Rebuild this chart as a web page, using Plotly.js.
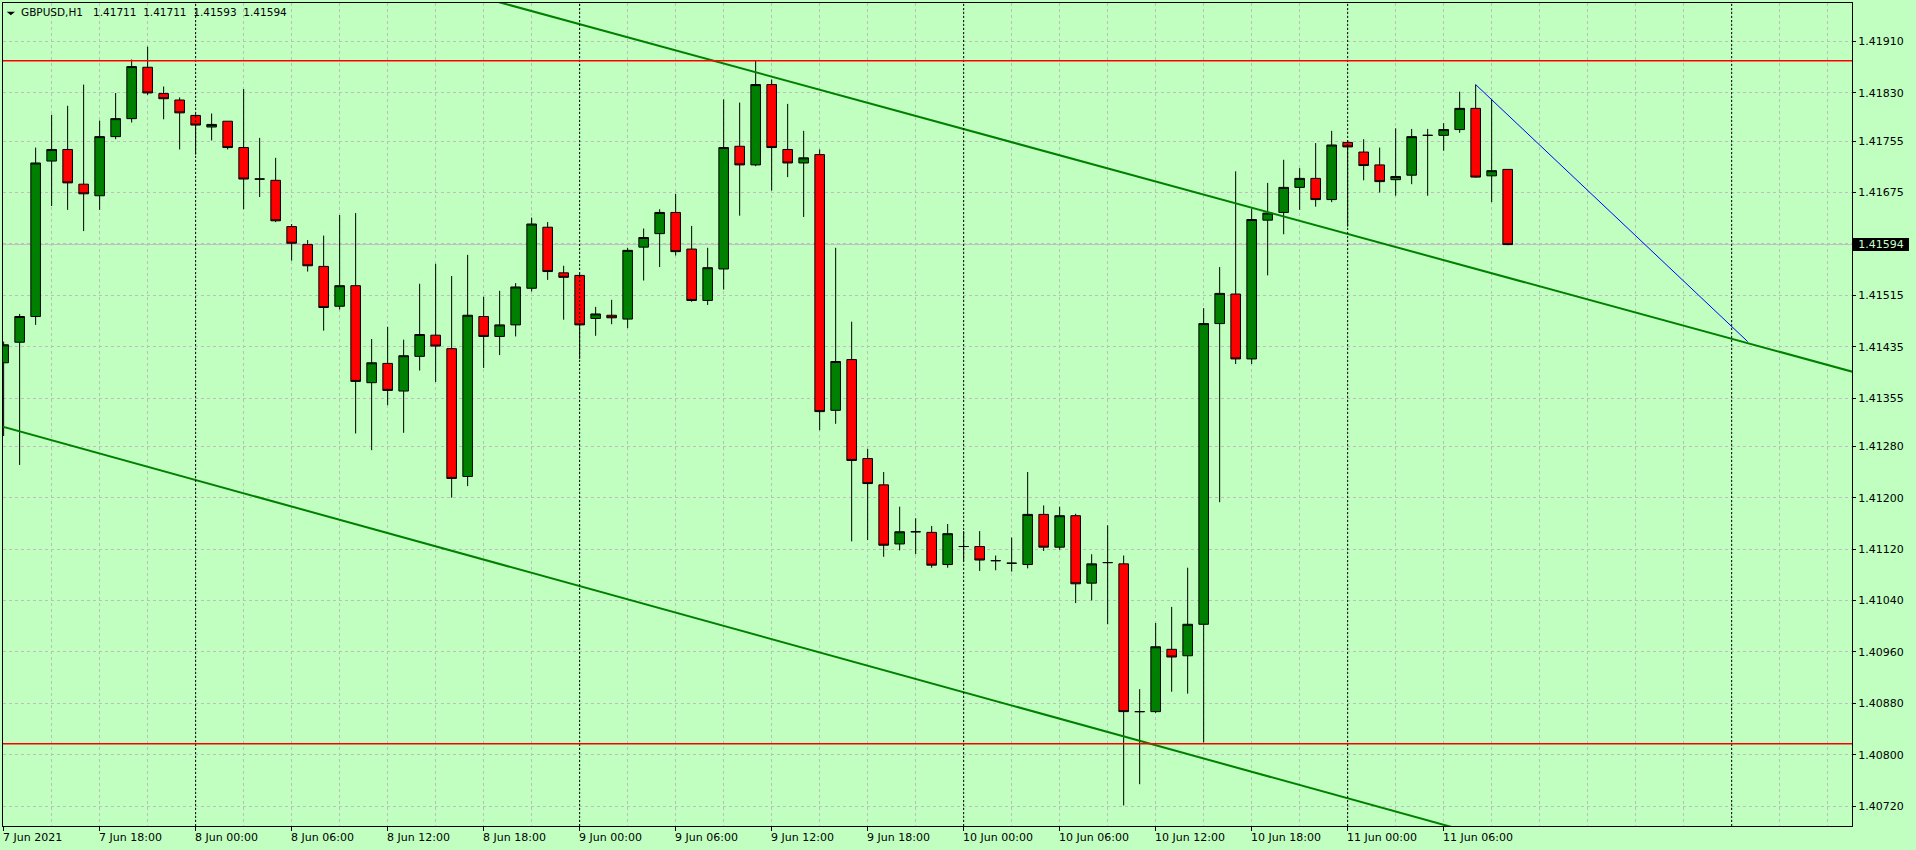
<!DOCTYPE html>
<html>
<head>
<meta charset="utf-8">
<script src="https://cdn.plot.ly/plotly-3.0.1.min.js"></script>
<style>
html,body{margin:0;padding:0;background:#C0FFC0;overflow:hidden;}
#chart{width:1916px;height:850px;}
</style>
</head>
<body>
<div id="chart"></div>
<script>
// ---- data (GBPUSD H1, first bar 7 Jun 2021 12:00, one bar per hour) ----
const firstBarTime = '2021-06-07T12:00:00';

const openP = [
1.41410,1.41442,1.41482,1.41724,1.41742,1.41688,1.41670,1.41762,1.41790,1.41870,
1.41829,1.41819,1.41795,1.41777,1.41786,1.41745,1.41696,1.41694,1.41622,1.41594,
1.41560,1.41498,1.41530,1.41379,1.41409,1.41366,1.41420,1.41453,1.41432,1.41233,
1.41482,1.41451,1.41469,1.41526,1.41621,1.41550,1.41546,1.41479,1.41484,1.41478,
1.41590,1.41611,1.41644,1.41587,1.41507,1.41556,1.41747,1.41718,1.41843,1.41742,
1.41721,1.41734,1.41336,1.41415,1.41261,1.41220,1.41128,1.41147,1.41146,1.41096,
1.41124,1.41124,1.41102,1.41098,1.41096,1.41174,1.41123,1.41172,1.41067,1.41099,
1.41097,1.40867,1.40867,1.40964,1.40954,1.41003,1.41471,1.41517,1.41416,1.41632,
1.41644,1.41683,1.41697,1.41664,1.41753,1.41738,1.41718,1.41695,1.41702,1.41764,
1.41764,1.41773,1.41806,1.41701,1.41711];
const highP = [
1.41443,1.41486,1.41745,1.41796,1.41810,1.41843,1.41787,1.41830,1.41882,1.41902,
1.41840,1.41823,1.41797,1.41798,1.41786,1.41836,1.41760,1.41729,1.41626,1.41601,
1.41608,1.41640,1.41643,1.41447,1.41466,1.41446,1.41533,1.41564,1.41545,1.41578,
1.41513,1.41522,1.41534,1.41636,1.41629,1.41561,1.41549,1.41497,1.41508,1.41589,
1.41619,1.41649,1.41673,1.41623,1.41589,1.41820,1.41815,1.41880,1.41851,1.41813,
1.41771,1.41742,1.41589,1.41474,1.41276,1.41240,1.41186,1.41168,1.41156,1.41159,
1.41148,1.41148,1.41110,1.41138,1.41240,1.41188,1.41186,1.41175,1.41112,1.41157,
1.41110,1.40902,1.41005,1.41030,1.41091,1.41495,1.41559,1.41708,1.41650,1.41690,
1.41726,1.41713,1.41752,1.41771,1.41756,1.41758,1.41745,1.41775,1.41774,1.41774,
1.41783,1.41832,1.41843,1.41821,1.41711];
const lowP = [
1.41296,1.41251,1.41469,1.41654,1.41648,1.41615,1.41648,1.41758,1.41784,1.41827,
1.41789,1.41742,1.41734,1.41756,1.41742,1.41649,1.41668,1.41629,1.41569,1.41552,
1.41460,1.41493,1.41300,1.41274,1.41344,1.41301,1.41398,1.41380,1.41200,1.41218,
1.41402,1.41422,1.41451,1.41521,1.41539,1.41477,1.41416,1.41452,1.41470,1.41464,
1.41538,1.41559,1.41577,1.41505,1.41500,1.41524,1.41639,1.41716,1.41678,1.41699,
1.41637,1.41305,1.41315,1.41132,1.41134,1.41108,1.41118,1.41112,1.41091,1.41091,
1.41101,1.41086,1.41087,1.41085,1.41090,1.41117,1.41119,1.41036,1.41040,1.41003,
1.40721,1.40754,1.40865,1.40898,1.40895,1.40819,1.41193,1.41408,1.41408,1.41546,
1.41610,1.41648,1.41653,1.41660,1.41622,1.41694,1.41675,1.41670,1.41688,1.41670,
1.41740,1.41768,1.41698,1.41660,1.41593];
const closeP = [
1.41438,1.41482,1.41721,1.41742,1.41690,1.41673,1.41762,1.41790,1.41871,1.41830,
1.41821,1.41799,1.41780,1.41781,1.41745,1.41696,1.41696,1.41631,1.41596,1.41561,
1.41496,1.41530,1.41381,1.41410,1.41367,1.41421,1.41454,1.41436,1.41230,1.41484,
1.41451,1.41469,1.41528,1.41626,1.41552,1.41543,1.41469,1.41486,1.41480,1.41585,
1.41605,1.41644,1.41583,1.41507,1.41558,1.41745,1.41718,1.41843,1.41745,1.41721,
1.41729,1.41334,1.41412,1.41258,1.41222,1.41126,1.41147,1.41147,1.41095,1.41144,
1.41124,1.41103,1.41102,1.41098,1.41174,1.41123,1.41172,1.41066,1.41097,1.41099,
1.40867,1.40867,1.40968,1.40952,1.41003,1.41471,1.41518,1.41416,1.41633,1.41643,
1.41683,1.41697,1.41664,1.41749,1.41746,1.41717,1.41692,1.41700,1.41762,1.41764,
1.41773,1.41806,1.41699,1.41709,1.41594];

// time axis labels (MT4 style, left aligned at the tick)
const xLabelTimes = [
'2021-06-07 12:00','2021-06-07 18:00','2021-06-08 00:00','2021-06-08 06:00',
'2021-06-08 12:00','2021-06-08 18:00','2021-06-09 00:00','2021-06-09 06:00',
'2021-06-09 12:00','2021-06-09 18:00','2021-06-10 00:00','2021-06-10 06:00',
'2021-06-10 12:00','2021-06-10 18:00','2021-06-11 00:00','2021-06-11 06:00'];
const xLabelText = [
'7 Jun 2021','7 Jun 18:00','8 Jun 00:00','8 Jun 06:00',
'8 Jun 12:00','8 Jun 18:00','9 Jun 00:00','9 Jun 06:00',
'9 Jun 12:00','9 Jun 18:00','10 Jun 00:00','10 Jun 06:00',
'10 Jun 12:00','10 Jun 18:00','11 Jun 00:00','11 Jun 06:00'];

// price axis
const yTickVals = [1.40720,1.40800,1.40880,1.40960,1.41040,1.41120,1.41200,1.41280,
                   1.41355,1.41435,1.41515,1.41595,1.41675,1.41755,1.41830,1.41910];
const yTickText = ['1.40720','1.40800','1.40880','1.40960','1.41040','1.41120','1.41200','1.41280',
                   '1.41355','1.41435','1.41515','','1.41675','1.41755','1.41830','1.41910'];

// objects on the chart
const daySeparators = ['2021-06-08 00:00','2021-06-09 00:00','2021-06-10 00:00','2021-06-11 00:00','2021-06-12 00:00'];
const levelPrices = [1.41880, 1.40817];
const bidPrice = 1.41594;
const upperTrendX = ['2021-06-08 14:00','2021-06-12 08:00'];
const upperTrendY = [1.42005, 1.41393];
const lowerTrendX = ['2021-06-07 11:00','2021-06-12 08:00'];
const lowerTrendY = [1.41317, 1.40512];
const blueLineX = ['2021-06-11 08:00','2021-06-12 01:00'];
const blueLineY = [1.41843, 1.41443];
const titleText = 'GBPUSD,H1\u00A0\u00A0\u00A01.41711\u00A0\u00A01.41711\u00A0\u00A01.41593\u00A0\u00A01.41594';
const xRange = ['2021-06-07 11:57:36','2021-06-12 07:31:12'];
const yRange = [1.40689, 1.41970];

// ---- build ----
function hourStr(base, h){
  const d = new Date(Date.parse(base + 'Z') + h * 3600000);
  return d.toISOString().slice(0,19).replace('T',' ');
}
const times = openP.map((_, i) => hourStr(firstBarTime, i));

const BG = '#C0FFC0';
const GRID = '#BDBDBD';
const FONT = 'DejaVu Sans';

const traces = [
  {
    type:'candlestick', x:times, open:openP, high:highP, low:lowP, close:closeP,
    increasing:{line:{color:'#000000', width:1}, fillcolor:'#008000'},
    decreasing:{line:{color:'#000000', width:1}, fillcolor:'#FF0000'},
    whiskerwidth:0, hoverinfo:'skip', showlegend:false
  },
  {type:'scatter', mode:'lines', x:upperTrendX, y:upperTrendY, line:{color:'#008000', width:2}, hoverinfo:'skip'},
  {type:'scatter', mode:'lines', x:lowerTrendX, y:lowerTrendY, line:{color:'#008000', width:2}, hoverinfo:'skip'},
  {type:'scatter', mode:'lines', x:blueLineX, y:blueLineY, line:{color:'#0000FF', width:1}, hoverinfo:'skip'}
];

const shapes = [];
shapes.push({type:'line', xref:'paper', x0:0, x1:1, yref:'y', y0:bidPrice, y1:bidPrice,
             line:{color:'#C0C0C0', width:1}, layer:'below'});
daySeparators.forEach(t => shapes.push({type:'line', xref:'x', x0:t, x1:t, yref:'paper', y0:0, y1:1,
             line:{color:'#000000', width:1, dash:'2px,2px'}}));
levelPrices.forEach(p => shapes.push({type:'line', xref:'paper', x0:0, x1:1, yref:'y', y0:p, y1:p,
             line:{color:'#FF0000', width:1.5}}));
// small black triangle of the chart header
shapes.push({type:'path', xref:'paper', yref:'paper',
             path:'M 0.00200 0.98943 L 0.00649 0.98943 L 0.00425 0.98505 Z',
             fillcolor:'#000000', line:{width:0}});

const annotations = xLabelTimes.map((t, i) => ({
  x:t, xref:'x', y:0, yref:'paper', xanchor:'left', yanchor:'middle',
  xshift:-1.5, yshift:-11, text:xLabelText[i], showarrow:false, borderpad:0,
  font:{family:FONT, size:11, color:'#000000'}
}));
annotations.push({
  x:1, xref:'paper', y:bidPrice, yref:'y', xanchor:'left', yanchor:'middle', xshift:1,
  text:'1.41594', showarrow:false, bgcolor:'#000000', borderpad:0, borderwidth:0,
  width:56, height:13, align:'center',
  font:{family:FONT, size:11, color:'#C8FFC8'}
});

const layout = {
  width:1916, height:850,
  margin:{l:3, r:64, t:3, b:24, pad:0},
  paper_bgcolor:BG, plot_bgcolor:BG,
  font:{family:FONT, size:11, color:'#000000'},
  showlegend:false,
  boxgap:0.4, boxgroupgap:0,
  hovermode:false,
  title:{text:titleText, xref:'container', x:21/1916, xanchor:'left',
         yref:'container', y:1 - 12.5/850, yanchor:'middle',
         font:{family:FONT, size:10.5, color:'#000000'}},
  xaxis:{
    type:'date', range:xRange, rangeslider:{visible:false}, fixedrange:true,
    showline:true, mirror:true, linecolor:'#000000', linewidth:1,
    tickmode:'array', tickvals:xLabelTimes, showticklabels:false,
    ticks:'outside', ticklen:4, tickcolor:'#000000', tickwidth:1,
    showgrid:true, gridcolor:GRID, gridwidth:1, griddash:'3px,3px',
    minor:{tickmode:'linear', tick0:'2021-06-07 00:00', dtick:10800000,
           showgrid:true, gridcolor:GRID, gridwidth:1, griddash:'3px,3px', ticks:''},
    zeroline:false
  },
  yaxis:{
    side:'right', range:yRange, fixedrange:true,
    tickmode:'array', tickvals:yTickVals, ticktext:yTickText,
    ticks:'outside', ticklen:3, tickcolor:'#000000', tickwidth:1,
    tickfont:{family:FONT, size:11, color:'#000000'},
    showline:true, mirror:true, linecolor:'#000000', linewidth:1,
    showgrid:true, gridcolor:GRID, gridwidth:1, griddash:'3px,3px',
    zeroline:false
  },
  shapes:shapes,
  annotations:annotations
};

Plotly.newPlot('chart', traces, layout, {displayModeBar:false, staticPlot:true});
</script>
</body>
</html>
